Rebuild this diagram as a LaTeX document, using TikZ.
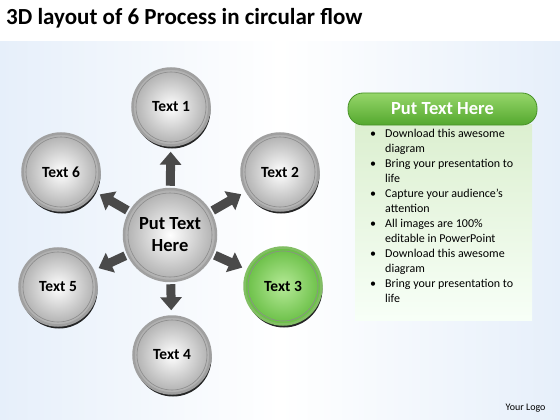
\documentclass[tikz,border=0pt]{standalone}
\usepackage{fontspec}
\setmainfont{Carlito}
\usepackage{tikz}
\usetikzlibrary{positioning,shadows,arrows.meta}

\definecolor{ringgray}{RGB}{160,160,160}
\definecolor{arrowgray}{RGB}{74,74,74}
\definecolor{greenin}{RGB}{182,234,152}
\definecolor{greenout}{RGB}{104,190,68}
\definecolor{greenrim}{RGB}{130,190,100}
\definecolor{headtop}{RGB}{150,214,106}
\definecolor{headbot}{RGB}{84,168,46}
\definecolor{headrim}{RGB}{72,146,40}
\definecolor{paleblue}{RGB}{230,239,250}
\definecolor{panelgreen}{RGB}{220,239,208}

\tikzset{
  ring/.style={path picture={\draw[black!45, line width=0.6pt] (path picture bounding box.center) circle[radius=#1];}},
  ball/.style={circle, inner sep=0pt, draw=ringgray, line width=2.5pt,
    inner color=white, outer color=black!32},
  disc/.style={ball, minimum size=77pt, ring=35pt,
    font=\fontsize{15.5}{18}\selectfont\bfseries,
    drop shadow={shadow xshift=1pt, shadow yshift=-3pt, fill=black, opacity=0.85}},
  greendisc/.style={disc, inner color=greenin, outer color=greenout, draw=greenrim},
  hub/.style={ball, minimum size=92pt, ring=42pt, align=center,
    font=\fontsize{18.5}{22}\selectfont\bfseries},
  arr/.style={draw=arrowgray, line width=9pt, -{Triangle[width=21pt,length=13pt]},
    shorten <=2pt, shorten >=5pt},
  header/.style={rounded corners=15pt, minimum width=189pt, minimum height=32pt,
    top color=headtop, bottom color=headbot, draw=headrim, line width=0.8pt,
    text=white, font=\fontsize{18.5}{22}\selectfont\bfseries},
  panel/.style={minimum width=177pt, minimum height=196pt, inner sep=0pt,
    top color=panelgreen, bottom color=green!3!white},
  item/.style={inner sep=0pt, font=\fontsize{12}{15}\selectfont}
}

\begin{document}
\begin{tikzpicture}[x=1pt,y=-1pt]
		\useasboundingbox (0,0) rectangle (560,420);
		\fill[white] (0,0) rectangle (560,420);
		\shade[left color=paleblue, right color=paleblue, middle color=white] (0,42) rectangle (560,420);
		\node(title) [anchor=base west, inner sep=0pt, font=\fontsize{23}{27}\selectfont\bfseries] at (6,25) {3D layout of 6 Process in circular flow};
		\node(c0) [hub] at (170,235) {Put Text\\Here};
		\node(t1) [disc] at (171,107) {Text 1};
		\node(t2) [disc] at (280,172) {Text 2};
		\node(t3) [greendisc] at (283,286) {Text 3};
		\node(t4) [disc] at (172,355) {Text 4};
		\node(t5) [disc] at (58,287) {Text 5};
		\node(t6) [disc] at (61,172) {Text 6};
		\path
			(c0) edge[arr] (t1)
			(c0) edge[arr] (t2)
			(c0) edge[arr] (t3)
			(c0) edge[arr] (t4)
			(c0) edge[arr] (t5)
			(c0) edge[arr] (t6);
		\node(bd) [panel, anchor=north] at (443.5,124) {};
		\node(hd) [header] at (442.5,109) {Put Text Here};
		\foreach \txt [count=\i] in {Download this awesome, diagram, Bring your presentation to, life, Capture your audience’s, attention, All images are 100\%, editable in PowerPoint, Download this awesome, diagram, Bring your presentation to, life}
			\node(l\i) [item, anchor=base west] at (385,122+15*\i) {\txt};
		\foreach \i in {1,3,...,11}
			\node(d\i) [item, anchor=base] at (373,122+15*\i) {\textbullet};
		\node(logo) [anchor=base east, font=\fontsize{10}{12}\selectfont] at (549,410) {Your Logo};
	\end{tikzpicture}
\end{document}
